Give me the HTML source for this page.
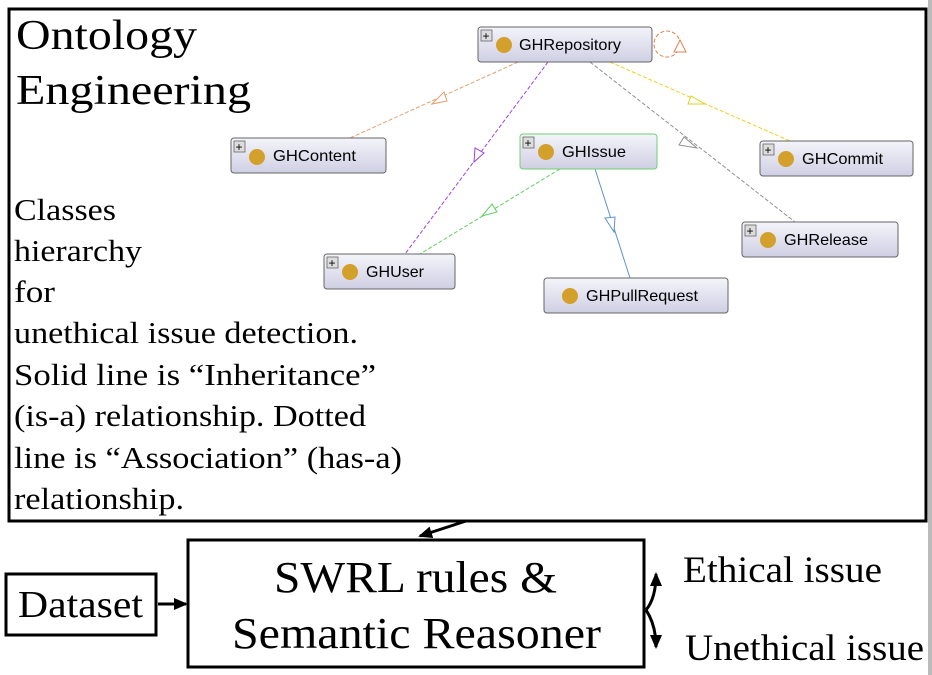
<!DOCTYPE html>
<html><head><style>body{margin:0;background:#fff}svg{display:block}</style></head><body>
<svg width="932" height="675" xmlns="http://www.w3.org/2000/svg" font-family="Liberation Serif, serif">
<defs>
<linearGradient id="g" x1="0" y1="0" x2="0" y2="1"><stop offset="0" stop-color="#f4f4fa"/><stop offset="1" stop-color="#cfcfe4"/></linearGradient>
<marker id="ah" markerUnits="userSpaceOnUse" markerWidth="15" markerHeight="14" refX="12" refY="7" orient="auto"><path d="M0,1 L14,7 L0,13 z" fill="#000"/></marker>
</defs>
<rect x="928" y="0" width="4" height="675" fill="#bbb"/>
<rect x="9" y="9" width="917" height="512" fill="#fff" stroke="#000" stroke-width="3"/>
<g fill="#fff" stroke-width="1" stroke-dasharray="4,2">
<line x1="518" y1="62" x2="350" y2="138" stroke="#e0a070"/>
<line x1="548" y1="62" x2="405" y2="254" stroke="#a040e0"/>
<line x1="610" y1="62" x2="790" y2="141" stroke="#f0d020"/>
<line x1="590" y1="62" x2="795" y2="222" stroke="#909090"/>
<line x1="560" y1="169" x2="420" y2="254" stroke="#60d060"/>
<line x1="595" y1="169" x2="630" y2="278" stroke="#6090d0" stroke-dasharray="none"/>
<circle cx="667" cy="44" r="13" stroke="#e08050" fill="none"/>
</g>
<g fill="#fff" stroke-width="1">
<polygon points="432,104 444,92 447,101" stroke="#e0a070"/>
<polygon points="474,162 475,148 484,153" stroke="#a040e0"/>
<polygon points="705,104 691,96 688,104" stroke="#e0d020"/>
<polygon points="697,148 684,137 679,145" stroke="#909090"/>
<polygon points="482,216 492,204 497,212" stroke="#60d060"/>
<polygon points="614,232 605,218 615,217" stroke="#6090d0"/>
<polygon points="674,52 680,40 686,52" stroke="#e08050"/>
</g>
<g font-family="Liberation Sans, sans-serif" font-size="16">
<g><rect x="478" y="27" width="174" height="35" rx="3" fill="url(#g)" stroke="#666"/><rect x="481" y="30" width="11" height="11" fill="#ddd" stroke="#666" stroke-width=".8"/><text x="482.5" y="40" font-size="12">+</text><circle cx="504" cy="45" r="8" fill="#d4a02c"/><text x="519" y="50" textLength="102" lengthAdjust="spacingAndGlyphs">GHRepository</text></g>
<g><rect x="231" y="138" width="155" height="35" rx="3" fill="url(#g)" stroke="#666"/><rect x="234" y="141" width="11" height="11" fill="#ddd" stroke="#666" stroke-width=".8"/><text x="235.5" y="151" font-size="12">+</text><circle cx="257" cy="157" r="8" fill="#d4a02c"/><text x="273" y="161" textLength="83" lengthAdjust="spacingAndGlyphs">GHContent</text></g>
<g><rect x="520" y="134" width="137" height="35" rx="3" fill="url(#g)" stroke="#70d070"/><rect x="523" y="137" width="11" height="11" fill="#ddd" stroke="#666" stroke-width=".8"/><text x="524.5" y="147" font-size="12">+</text><circle cx="546" cy="152" r="8" fill="#d4a02c"/><text x="562" y="157" textLength="64" lengthAdjust="spacingAndGlyphs">GHIssue</text></g>
<g><rect x="760" y="141" width="153" height="35" rx="3" fill="url(#g)" stroke="#666"/><rect x="763" y="144" width="11" height="11" fill="#ddd" stroke="#666" stroke-width=".8"/><text x="764.5" y="154" font-size="12">+</text><circle cx="786" cy="159" r="8" fill="#d4a02c"/><text x="802" y="164" textLength="81" lengthAdjust="spacingAndGlyphs">GHCommit</text></g>
<g><rect x="742" y="222" width="156" height="35" rx="3" fill="url(#g)" stroke="#666"/><rect x="745" y="225" width="11" height="11" fill="#ddd" stroke="#666" stroke-width=".8"/><text x="746.5" y="235" font-size="12">+</text><circle cx="768" cy="240" r="8" fill="#d4a02c"/><text x="784" y="245" textLength="84" lengthAdjust="spacingAndGlyphs">GHRelease</text></g>
<g><rect x="324" y="254" width="131" height="35" rx="3" fill="url(#g)" stroke="#666"/><rect x="327" y="257" width="11" height="11" fill="#ddd" stroke="#666" stroke-width=".8"/><text x="328.5" y="267" font-size="12">+</text><circle cx="350" cy="272" r="8" fill="#d4a02c"/><text x="366" y="277" textLength="58" lengthAdjust="spacingAndGlyphs">GHUser</text></g>
<g><rect x="544" y="278" width="184" height="35" rx="3" fill="url(#g)" stroke="#666"/><circle cx="570" cy="296" r="8" fill="#d4a02c"/><text x="586" y="301" textLength="112" lengthAdjust="spacingAndGlyphs">GHPullRequest</text></g>
</g>
<text x="16" y="49" font-size="42" textLength="181" lengthAdjust="spacingAndGlyphs">Ontology</text>
<text x="16" y="104" font-size="42" textLength="235" lengthAdjust="spacingAndGlyphs">Engineering</text>
<g font-size="31">
<text x="14" y="220" textLength="102" lengthAdjust="spacingAndGlyphs">Classes</text>
<text x="14" y="261" textLength="128" lengthAdjust="spacingAndGlyphs">hierarchy</text>
<text x="14" y="302" textLength="41" lengthAdjust="spacingAndGlyphs">for</text>
<text x="14" y="343" textLength="344" lengthAdjust="spacingAndGlyphs">unethical issue detection.</text>
<text x="14" y="385" textLength="362" lengthAdjust="spacingAndGlyphs">Solid line is “Inheritance”</text>
<text x="14" y="426" textLength="352" lengthAdjust="spacingAndGlyphs">(is-a) relationship. Dotted</text>
<text x="14" y="468" textLength="388" lengthAdjust="spacingAndGlyphs">line is “Association” (has-a)</text>
<text x="14" y="509" textLength="170" lengthAdjust="spacingAndGlyphs">relationship.</text>
</g>
<rect x="188" y="540" width="456" height="127" fill="#fff" stroke="#000" stroke-width="3"/>
<text x="274" y="592" font-size="44" textLength="283" lengthAdjust="spacingAndGlyphs">SWRL rules &amp;</text>
<text x="232" y="648" font-size="44" textLength="369" lengthAdjust="spacingAndGlyphs">Semantic Reasoner</text>
<rect x="6" y="574" width="150" height="61" fill="#fff" stroke="#000" stroke-width="3"/>
<text x="18" y="617" font-size="38" textLength="125" lengthAdjust="spacingAndGlyphs">Dataset</text>
<text x="683" y="582" font-size="37" textLength="199" lengthAdjust="spacingAndGlyphs">Ethical issue</text>
<text x="685" y="660" font-size="37" textLength="239" lengthAdjust="spacingAndGlyphs">Unethical issue</text>
<g stroke="#000" stroke-width="3" fill="none">
<line x1="466" y1="521" x2="420" y2="536" marker-end="url(#ah)"/>
<line x1="158" y1="604" x2="186" y2="604" marker-end="url(#ah)"/>
<path d="M646,610 Q656,598 656,574" marker-end="url(#ah)"/>
<path d="M646,610 Q656,625 656,647" marker-end="url(#ah)"/>
</g>
</svg>
</body></html>
